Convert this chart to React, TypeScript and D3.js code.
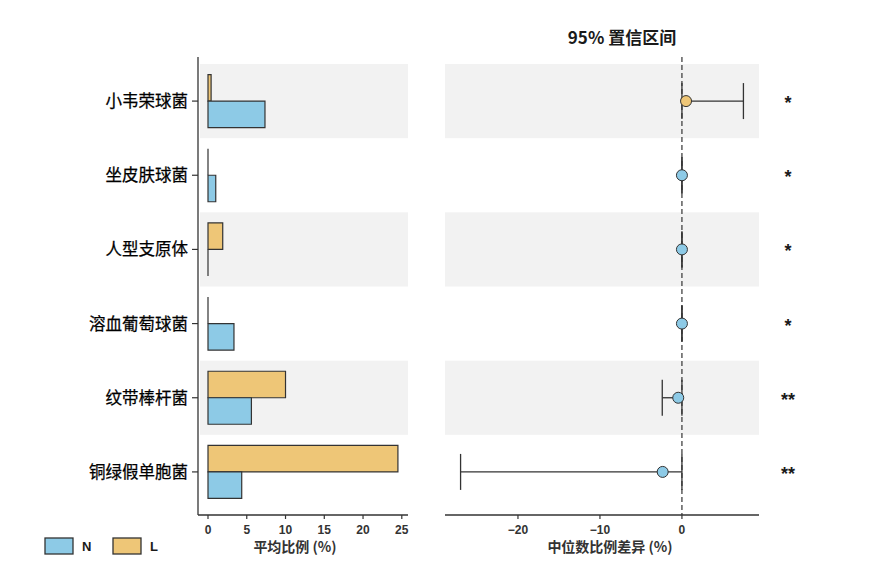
import React from 'react';
import * as d3 from 'd3';

const categories = ['小韦荣球菌', '坐皮肤球菌', '人型支原体', '溶血葡萄球菌', '纹带棒杆菌', '铜绿假单胞菌'];
const meanN = [7.35, 1.0, 0.0, 3.35, 5.6, 4.35];
const meanL = [0.4, 0.0, 1.9, 0.0, 10.0, 24.5];
const diffEst = [0.5, 0.0, 0.0, 0.0, -0.45, -2.35];
const ciLow = [0.0, 0.0, 0.0, 0.0, -2.4, -27.0];
const ciHigh = [7.5, 0.0, 0.0, 0.0, 0.0, 0.0];
const pointGroup = ['L', 'N', 'N', 'N', 'N', 'N'];
const signif = ['*', '*', '*', '*', '**', '**'];
const leftTicks = [0, 5, 10, 15, 20, 25];
const rightTicks = [-20, -10, 0];
const groups = ['N', 'L'];

const W = 878;
const H = 569;
const colN = '#8DCAE6';
const colL = '#EEC677';
const band = '#F2F2F2';
const ink = '#333333';
const latin = 'Arial, "Liberation Sans", "Noto Sans CJK SC", sans-serif';
const cjk = '"Noto Sans CJK SC", "Liberation Sans", sans-serif';

export default function App() {
  const y = d3.scaleBand<string>().domain(categories).range([64, 509]).padding(0);
  const xL = d3.scaleLinear().domain([-1.29, 25.8]).range([198, 408]);
  const xR = d3.scaleLinear().domain([-28.9, 9.4]).range([445, 759]);
  const axisY = 515;
  const bh = 26.5;
  const cap = 18;
  const colorOf = (g: string) => (g === 'N' ? colN : colL);
  const barPath = (x0: number, x1: number, y0: number, y1: number) =>
    `M${x0},${y0}H${x1}V${y1}H${x0}Z`;

  return (
    <svg width={W} height={H} style={{ position: 'absolute', left: 0, top: 0, background: '#fff' }}>
      {/* bands */}
      {categories.map((c, i) =>
        i % 2 === 0 ? (
          <g key={'b' + c}>
            <rect x={200} y={y(c)!} width={208} height={y.bandwidth()} fill={band} />
            <rect x={445} y={y(c)!} width={314} height={y.bandwidth()} fill={band} />
          </g>
        ) : null
      )}

      {/* left bars */}
      {categories.map((c, i) => {
        const cy = y(c)! + y.bandwidth() / 2;
        return (
          <g key={'bar' + c}>
            <path d={barPath(xL(0), xL(meanL[i]), cy - bh, cy)} fill={colL} stroke={ink} strokeWidth={1.2} />
            <path d={barPath(xL(0), xL(meanN[i]), cy, cy + bh)} fill={colN} stroke={ink} strokeWidth={1.2} />
          </g>
        );
      })}

      {/* left axes */}
      <line x1={198} x2={198} y1={57} y2={axisY} stroke={ink} strokeWidth={1.3} />
      <line x1={198} x2={408} y1={axisY} y2={axisY} stroke={ink} strokeWidth={1.3} />
      {categories.map((c) => {
        const cy = y(c)! + y.bandwidth() / 2;
        return (
          <g key={'yl' + c}>
            <line x1={192} x2={198} y1={cy} y2={cy} stroke={ink} strokeWidth={1.2} />
            <text x={188} y={cy + 6} textAnchor="end" fontSize={16.5} fontFamily={cjk} fill="#000" stroke="#000" strokeWidth={0.25}>
              {c}
            </text>
          </g>
        );
      })}
      {leftTicks.map((t) => (
        <g key={'lt' + t}>
          <line x1={xL(t)} x2={xL(t)} y1={axisY} y2={axisY + 4} stroke={ink} strokeWidth={1.2} />
          <text x={xL(t)} y={axisY + 19} textAnchor="middle" fontSize={12} fontWeight="bold" fontFamily={latin} fill="#333">
            {t}
          </text>
        </g>
      ))}
      <text x={295} y={552} textAnchor="middle" fontSize={14} fontWeight="bold" fontFamily={cjk} fill="#333">
        平均比例 (%)
      </text>

      {/* right panel */}
      <line x1={xR(0)} x2={xR(0)} y1={57} y2={axisY} stroke={ink} strokeWidth={1.2} strokeDasharray="5,3" />
      {categories.map((c, i) => {
        const cy = y(c)! + y.bandwidth() / 2;
        return (
          <g key={'ci' + c}>
            <line x1={xR(ciLow[i])} x2={xR(ciHigh[i])} y1={cy} y2={cy} stroke={ink} strokeWidth={1.3} />
            <line x1={xR(ciLow[i])} x2={xR(ciLow[i])} y1={cy - cap} y2={cy + cap} stroke={ink} strokeWidth={1.3} />
            <line x1={xR(ciHigh[i])} x2={xR(ciHigh[i])} y1={cy - cap} y2={cy + cap} stroke={ink} strokeWidth={1.3} />
            <circle cx={xR(diffEst[i])} cy={cy} r={5.5} fill={colorOf(pointGroup[i])} stroke={ink} strokeWidth={1} />
            <text x={788} y={cy + 8} textAnchor="middle" fontSize={18} fontWeight="bold" fontFamily={latin} fill="#1a1a1a">
              {signif[i]}
            </text>
          </g>
        );
      })}
      <line x1={445} x2={759} y1={axisY} y2={axisY} stroke={ink} strokeWidth={1.3} />
      {rightTicks.map((t) => (
        <g key={'rt' + t}>
          <line x1={xR(t)} x2={xR(t)} y1={axisY} y2={axisY + 4} stroke={ink} strokeWidth={1.2} />
          <text x={xR(t)} y={axisY + 19} textAnchor="middle" fontSize={12} fontWeight="bold" fontFamily={latin} fill="#333">
            {t < 0 ? '\u2212' + Math.abs(t) : t}
          </text>
        </g>
      ))}
      <text x={610} y={552} textAnchor="middle" fontSize={14} fontWeight="bold" fontFamily={cjk} fill="#333">
        中位数比例差异 (%)
      </text>
      <text x={622} y={44} textAnchor="middle" fontSize={17} fontWeight="bold" fontFamily={cjk} fill="#1a1a1a">
        95% 置信区间
      </text>

      {/* legend */}
      {groups.map((g, i) => (
        <g key={'lg' + g} transform={`translate(${45 + i * 68},538)`}>
          <rect x={0} y={0} width={28} height={16} fill={colorOf(g)} stroke={ink} strokeWidth={1.3} />
          <text x={37} y={13} fontSize={13} fontWeight="bold" fontFamily={latin} fill="#1a1a1a">
            {g}
          </text>
        </g>
      ))}
    </svg>
  );
}
